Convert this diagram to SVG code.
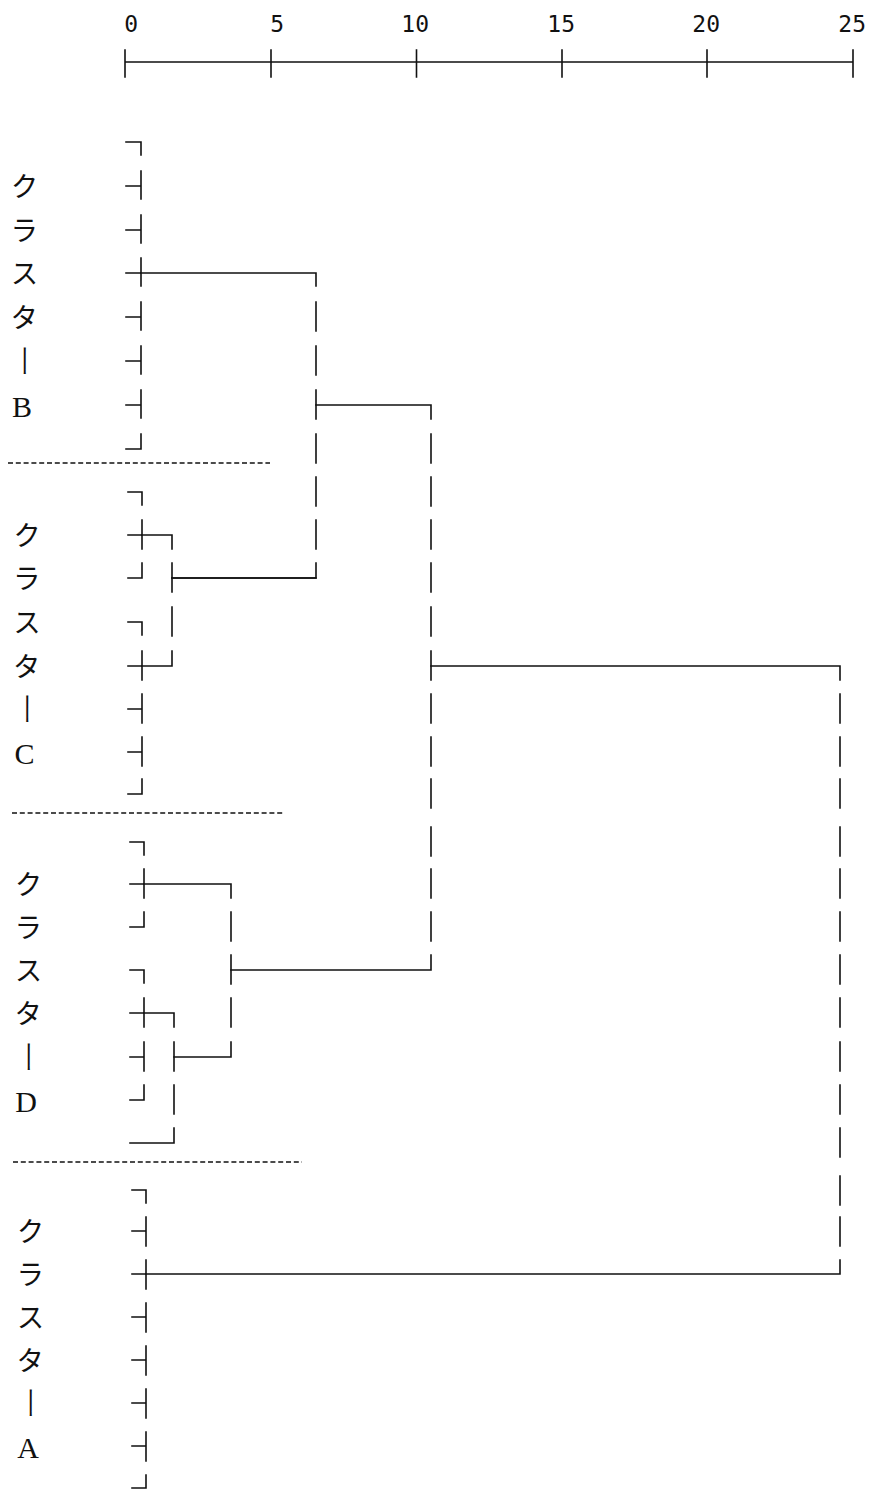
<svg xmlns="http://www.w3.org/2000/svg" width="871" height="1493" viewBox="0 0 871 1493">
<style>
.ln{fill:none;stroke:#111;stroke-width:1.6;stroke-linecap:square}
.sep{fill:none;stroke:#111;stroke-width:1.6;stroke-dasharray:5 2.8}
.num{font-family:"DejaVu Sans Mono","Liberation Mono",monospace;font-size:23px;fill:#111;text-anchor:end}
.lbl{font-family:"Liberation Serif","Noto Sans CJK JP",serif;font-size:28px;fill:#111;writing-mode:vertical-rl;text-orientation:upright}
.bar{font-size:34px;font-weight:300}
.lat{font-size:30px}
</style>
<rect width="871" height="1493" fill="#fff"/>
<g id="axis">
<path class="ln" d="M125 62H853M125 50V77M271 50V77M416.5 50V77M562 50V77M707 50V77M853 50V77"/>
<text class="num" x="138" y="32">0</text>
<text class="num" x="284" y="32">5</text>
<text class="num" x="429" y="32">10</text>
<text class="num" x="575" y="32">15</text>
<text class="num" x="720" y="32">20</text>
<text class="num" x="866" y="32">25</text>
</g>
<g id="cluster-B">
<text class="lbl" x="22" y="172 216 259 303">クラスタ<tspan class="bar" y="344">ー</tspan><tspan class="lat" y="390">B</tspan></text>
<path class="ln" d="M126 142H141V155M141 171V199M126 186H141M141 215V243M126 230H141M141 258V286M126 273H141M141 302V330M126 317H141M141 346V374M126 361H141M141 390V418M126 405H141M141 434V449H126"/>
</g>
<path id="sep-1" class="sep" d="M8 463H270"/>
<g id="cluster-C">
<text class="lbl" x="24.5" y="521 564 608 652">クラスタ<tspan class="bar" y="692">ー</tspan><tspan class="lat" y="737">C</tspan></text>
<path class="ln" d="M128 492H142V505M142 520V549M128 535H142M142 563V578H128M128 622H142V635M142 651V680M128 666H142M142 694V723M128 709H142M142 737V766M128 752H142M142 779V794H128"/>
</g>
<path id="sep-2" class="sep" d="M12 813H285"/>
<g id="cluster-D">
<text class="lbl" x="26" y="870 913 956 999">クラスタ<tspan class="bar" y="1040">ー</tspan><tspan class="lat" y="1085">D</tspan></text>
<path class="ln" d="M130 842H144V855M144 869V898M130 884H144M144 912V927H130M130 970H144V983M144 998V1027M130 1013H144M144 1042V1071M130 1057H144M144 1085V1100H130"/>
</g>
<path id="sep-3" class="sep" d="M13 1162H302"/>
<g id="cluster-A">
<text class="lbl" x="28" y="1217 1260 1303 1346">クラスタ<tspan class="bar" y="1386">ー</tspan><tspan class="lat" y="1431">A</tspan></text>
<path class="ln" d="M132 1190H146V1203M146 1217V1246M132 1231H146M146 1260V1289M132 1274H146M146 1303V1332M132 1317H146M146 1346V1375M132 1360H146M146 1389V1418M132 1403H146M146 1432V1461M132 1446H146M146 1475V1488H132"/>
</g>
<g id="connectors">
<path id="C-pair1" class="ln" d="M142 535H172V549M172 563V592M172 607V636M172 651V666H142"/>
<path id="C-merge" class="ln" d="M172 578H316"/>
<path id="B-C" class="ln" d="M141 273H316V286M316 302V331M316 346V375M316 390V419M316 434V463M316 477V506M316 520V549M316 563V578H172"/>
<path id="D-inner" class="ln" d="M144 1013H174V1027M174 1042V1071M174 1085V1114M174 1128V1143H130"/>
<path id="D-mid" class="ln" d="M174 1057H231M144 884H231V898M231 912V941M231 955V984M231 998V1027M231 1042V1057"/>
<path id="BC-D" class="ln" d="M316 405H431V419M431 434V463M431 477V506M431 520V549M431 563V592M431 607V636M431 651V680M431 694V723M431 737V766M431 779V808M431 827V856M431 869V898M431 912V941M431 955V970H231"/>
<path id="all-A" class="ln" d="M431 666H840V680M840 694V723M840 737V766M840 779V808M840 827V856M840 869V898M840 912V941M840 955V984M840 998V1027M840 1042V1071M840 1085V1114M840 1128V1157M840 1176V1205M840 1217V1246M840 1260V1274H146"/>
</g>
</svg>
